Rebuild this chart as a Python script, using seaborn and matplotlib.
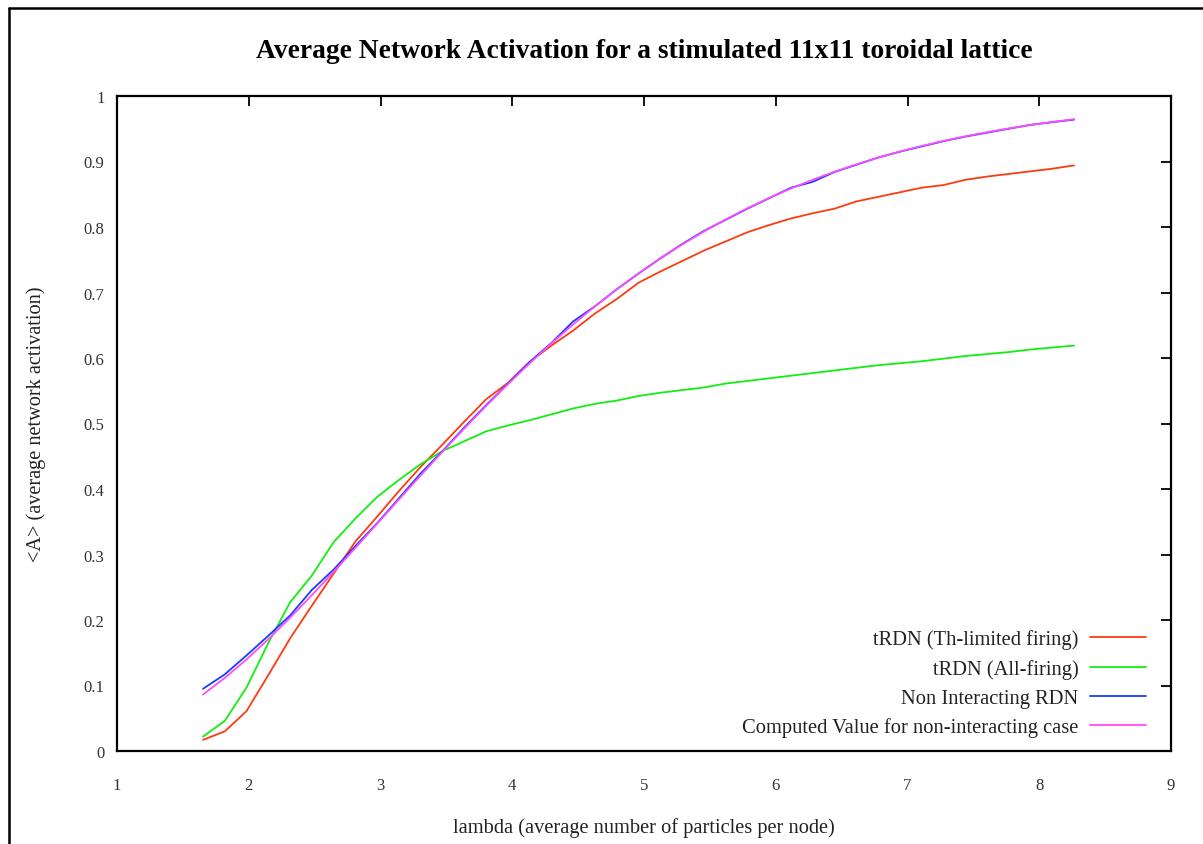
import matplotlib
matplotlib.use("Agg")
import matplotlib.pyplot as plt
from matplotlib.lines import Line2D
import seaborn as sns
import pandas as pd

# lambda = particles / 121 nodes, 200..1000 particles in steps of 20
lam = [200 / 121 + k * 20 / 121 for k in range(41)]

th_limited = [0.017, 0.030, 0.061, 0.116, 0.172, 0.222, 0.271, 0.320, 0.358, 0.397,
              0.434, 0.468, 0.503, 0.537, 0.562, 0.594, 0.619, 0.642, 0.668, 0.690,
              0.715, 0.732, 0.748, 0.764, 0.778, 0.792, 0.803, 0.813, 0.821, 0.828,
              0.839, 0.846, 0.853, 0.860, 0.864, 0.872, 0.877, 0.881, 0.885, 0.889,
              0.894]

all_firing = [0.022, 0.046, 0.097, 0.165, 0.227, 0.268, 0.319, 0.355, 0.388, 0.414,
              0.438, 0.458, 0.473, 0.488, 0.497, 0.505, 0.514, 0.523, 0.530, 0.535,
              0.542, 0.547, 0.551, 0.555, 0.561, 0.565, 0.569, 0.573, 0.577, 0.581,
              0.585, 0.589, 0.592, 0.595, 0.599, 0.603, 0.606, 0.609, 0.613, 0.616,
              0.619]

non_interacting = [0.095, 0.117, 0.146, 0.176, 0.207, 0.246, 0.277, 0.313, 0.348, 0.386,
                   0.424, 0.458, 0.494, 0.528, 0.561, 0.594, 0.623, 0.656, 0.679, 0.705,
                   0.729, 0.752, 0.774, 0.794, 0.811, 0.828, 0.844, 0.860, 0.869, 0.884,
                   0.895, 0.906, 0.915, 0.923, 0.931, 0.938, 0.944, 0.950, 0.956, 0.960,
                   0.964]

computed = [0.0862, 0.1116, 0.1399, 0.1707, 0.2035, 0.2380, 0.2737, 0.3103, 0.3472, 0.3842,
            0.4209, 0.4571, 0.4925, 0.5269, 0.5600, 0.5919, 0.6224, 0.6514, 0.6789, 0.7048,
            0.7291, 0.7520, 0.7733, 0.7931, 0.8115, 0.8286, 0.8443, 0.8588, 0.8722, 0.8844,
            0.8956, 0.9058, 0.9152, 0.9237, 0.9314, 0.9384, 0.9447, 0.9505, 0.9557, 0.9604,
            0.9646]

series_names = ["tRDN (Th-limited firing)", "tRDN (All-firing)",
                "Non Interacting RDN", "Computed Value for non-interacting case"]
series_values = [th_limited, all_firing, non_interacting, computed]
series_colors = ["#ff3a10", "#11ee11", "#1a3cff", "#ff4cff"]

x_ticks = [1, 2, 3, 4, 5, 6, 7, 8, 9]
y_ticks = [0, 0.1, 0.2, 0.3, 0.4, 0.5, 0.6, 0.7, 0.8, 0.9, 1]
y_tick_labels = ["0", "0.1", "0.2", "0.3", "0.4", "0.5", "0.6", "0.7", "0.8", "0.9", "1"]

sns.set_theme(style="white")
plt.rcParams["font.family"] = ["Liberation Serif", "DejaVu Serif"]

fig = plt.figure(figsize=(12.03, 8.45), dpi=100)
ax = fig.add_axes([117 / 1203, 1 - 752 / 845, (1171 - 117) / 1203, (752 - 97) / 845])

for name, vals, col in zip(series_names, series_values, series_colors):
    df = pd.DataFrame({"lambda": lam, "A": vals})
    sns.lineplot(data=df, x="lambda", y="A", ax=ax, color=col, linewidth=1.3,
                 label=name, sort=False, estimator=None)

ax.set_xlim(1, 9)
ax.set_ylim(0, 1)
ax.set_xticks(x_ticks)
ax.set_xticklabels([str(t) for t in x_ticks])
ax.set_yticks(y_ticks)
ax.set_yticklabels(y_tick_labels)

for s in ax.spines.values():
    s.set_visible(True)
    s.set_color("black")
    s.set_linewidth(1.6)

ax.tick_params(axis="both", which="major", direction="in", length=7, width=1.3,
               color="black", top=True, right=True, labelsize=12, labelcolor="#333333")
ax.tick_params(axis="x", pad=19)
ax.tick_params(axis="y", pad=9)

ax.set_xlabel("lambda (average number of particles per node)", fontsize=14.7,
              color="#222222", labelpad=17)
ax.set_ylabel("<A> (average network activation)", fontsize=14.6, color="#222222",
              labelpad=27)
ax.set_title("Average Network Activation for a stimulated 11x11 toroidal lattice",
             fontsize=19.8, fontweight="bold", color="black", pad=28)

leg = ax.legend(loc="lower right", bbox_to_anchor=(0.9845, 0.0081), borderaxespad=0,
                frameon=False, markerfirst=False, alignment="right",
                fontsize=14.8, handlelength=2.75, handletextpad=0.55, labelspacing=0.47,
                labelcolor="#222222")

# outer page frame
fig.add_artist(Line2D([8.5 / 1203, 8.5 / 1203], [0, 1 - 8.5 / 845], color="black",
                      linewidth=1.8, transform=fig.transFigure))
fig.add_artist(Line2D([8.5 / 1203, 1], [1 - 8.5 / 845, 1 - 8.5 / 845], color="black",
                      linewidth=1.8, transform=fig.transFigure))

fig.savefig("out.png", dpi=100, facecolor="white")
